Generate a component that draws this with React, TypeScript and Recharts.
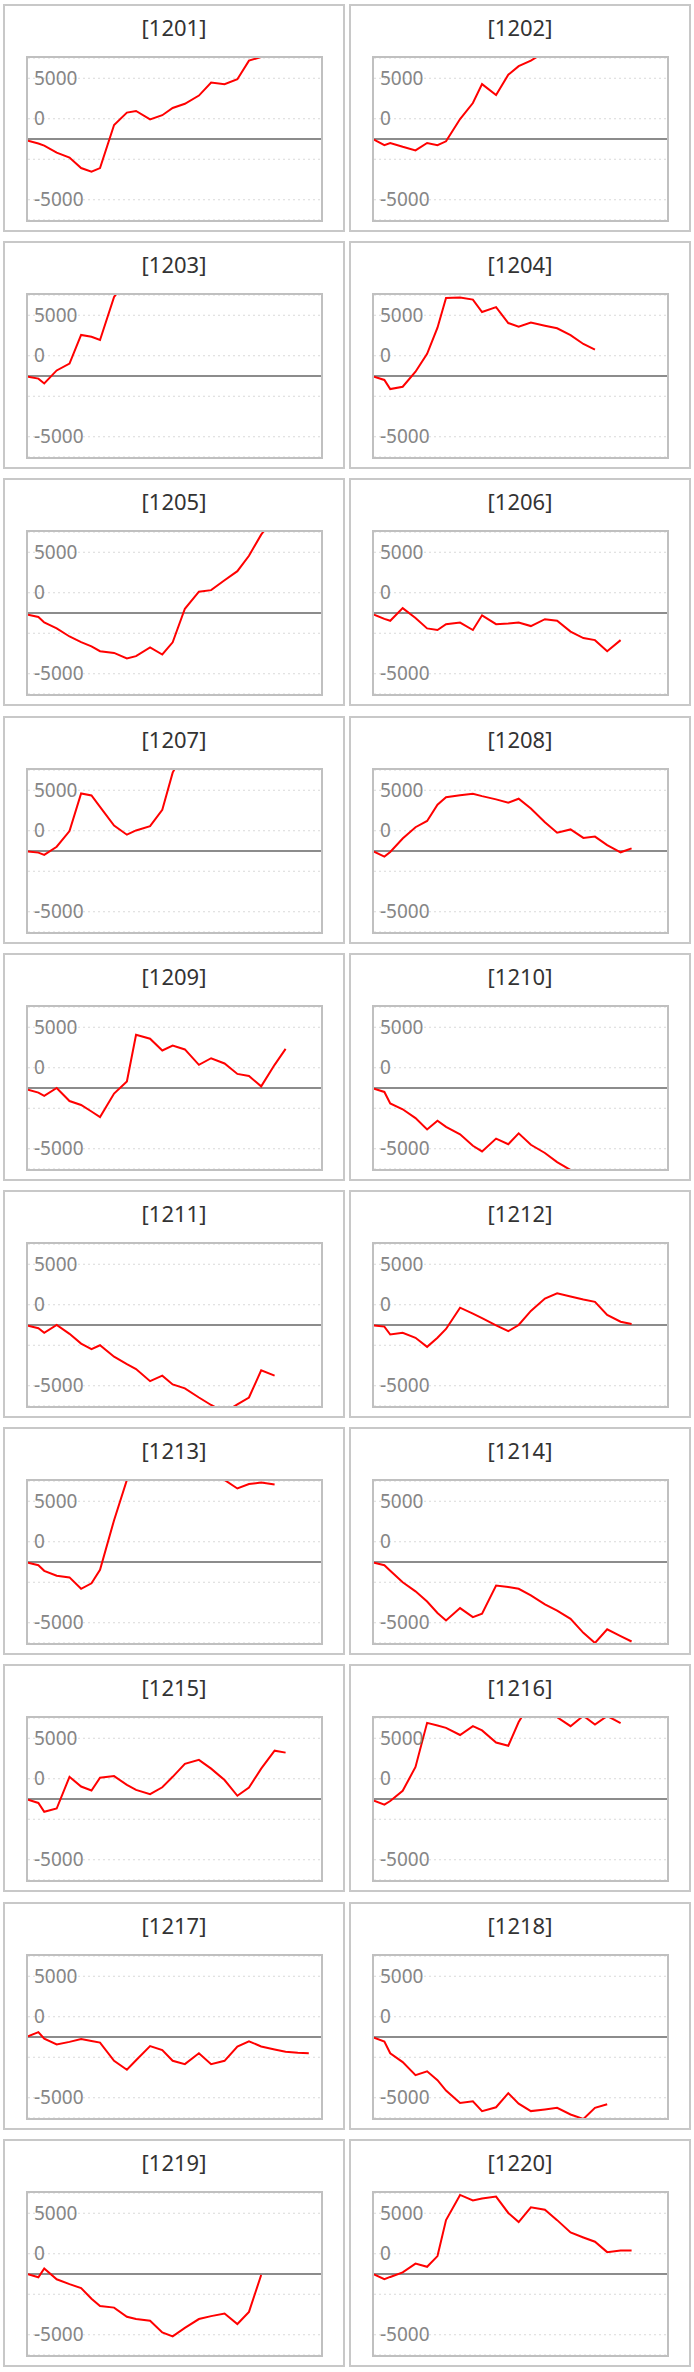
import React from "react";
import { LineChart, Line, XAxis, YAxis, CartesianGrid, ReferenceLine } from "recharts";

// shared time positions (days) of the samples
const T = [0, 0.85, 1.33, 2.35, 3.4, 4.35, 5.2, 5.9, 7.05, 8.1, 8.85, 10.0, 11.0, 11.85, 12.85, 14.0, 15.0, 16.1, 17.15, 18.1, 19.1, 20.2, 21.1, 22.1, 23.0];

const IDS = ["1201", "1202", "1203", "1204", "1205", "1206", "1207", "1208", "1209", "1210", "1211", "1212", "1213", "1214", "1215", "1216", "1217", "1218", "1219", "1220"];

const s1201 = [-160, -450, -650, -1350, -1840, -2870, -3230, -2870, 1390, 2610, 2770, 1940, 2350, 3060, 3480, 4290, 5580, 5420, 5900, 7740, 8100, 9000, 9600];
const s1202 = [-60, -610, -390, -770, -1130, -390, -610, -230, 1970, 3550, 5420, 4350, 6350, 7190, 7740, 8600, 9500];
const s1203 = [-60, -260, -740, 550, 1230, 4060, 3870, 3550, 7800, 9500];
const s1204 = [-60, -390, -1290, -1060, 420, 2190, 4770, 7700, 7750, 7550, 6320, 6800, 5230, 4870, 5290, 4970, 4710, 4030, 3160, 2610];
const s1205 = [-160, -390, -940, -1520, -2320, -2870, -3290, -3770, -3940, -4480, -4260, -3390, -4100, -2900, 420, 2100, 2260, 3230, 4130, 5650, 7740, 9500];
const s1206 = [-160, -580, -770, 480, -500, -1520, -1680, -1100, -940, -1680, -230, -1100, -1030, -940, -1290, -610, -770, -1840, -2480, -2680, -3770, -2680];
const s1207 = [-60, -160, -390, 420, 1970, 5680, 5480, 4350, 2520, 1610, 2030, 2450, 4060, 7740, 10000];
const s1208 = [-60, -550, -100, 1230, 2350, 2970, 4580, 5320, 5500, 5650, 5420, 5100, 4770, 5160, 4190, 2840, 1810, 2130, 1290, 1420, 580, -130, 260];
const s1209 = [-160, -450, -770, 0, -1290, -1680, -2320, -2870, -550, 650, 5260, 4870, 3710, 4190, 3810, 2290, 2940, 2420, 1390, 1190, 160, 2290, 3870];
const s1210 = [-60, -390, -1520, -2100, -2970, -4100, -3230, -3840, -4580, -5710, -6260, -5000, -5550, -4480, -5610, -6420, -7320, -8100, -9000, -9500];
const s1211 = [-60, -320, -770, 0, -870, -1840, -2390, -2000, -3130, -3870, -4350, -5550, -5000, -5870, -6260, -7160, -7900, -8600, -7850, -7160, -4480, -5000];
const s1212 = [-60, -160, -940, -770, -1260, -2160, -1260, -390, 1710, 1130, 680, -30, -610, 0, 1390, 2610, 3130, 2810, 2520, 2290, 1000, 320, 100];
const s1213 = [-60, -320, -870, -1350, -1520, -2650, -2100, -770, 4130, 8100, 9500, 10000, 10500, 10000, 9500, 9000, 8600, 8100, 7260, 7700, 7850, 7650];
const s1214 = [-60, -320, -870, -2000, -2900, -3900, -5030, -5770, -4550, -5450, -5100, -2320, -2480, -2650, -3290, -4190, -4810, -5610, -7000, -8000, -6650, -7320, -7850];
const s1215 = [-60, -390, -1260, -940, 2190, 1230, 840, 2100, 2260, 1390, 900, 480, 1160, 2190, 3480, 3870, 3000, 1870, 320, 1130, 3000, 4770, 4580];
const s1216 = [-160, -550, -200, 810, 3160, 7520, 7260, 7030, 6320, 7190, 6770, 5580, 5260, 7600, 9600, 9000, 8080, 7190, 8220, 7350, 8200, 7500];
const s1217 = [60, 480, -160, -740, -480, -190, -390, -550, -2350, -3230, -2290, -900, -1290, -2350, -2680, -1610, -2680, -2350, -940, -420, -940, -1230, -1450, -1550, -1610];
const s1218 = [-60, -450, -1610, -2480, -3770, -3390, -4260, -5290, -6520, -6350, -7320, -6940, -5550, -6580, -7320, -7160, -7000, -7650, -8100, -7000, -6650];
const s1219 = [-30, -320, 550, -520, -1000, -1390, -2450, -3160, -3320, -4230, -4450, -4610, -5770, -6160, -5320, -4450, -4160, -3900, -4940, -3740, -100];
const s1220 = [-30, -520, -290, 160, 1030, 710, 1770, 5320, 7810, 7260, 7450, 7650, 6030, 5130, 6580, 6350, 5320, 4100, 3610, 3190, 2160, 2320, 2320];

const SERIES = [s1201, s1202, s1203, s1204, s1205, s1206, s1207, s1208, s1209, s1210, s1211, s1212, s1213, s1214, s1215, s1216, s1217, s1218, s1219, s1220];

const Y_TICKS = [-6000, -4000, -2000, 0, 2000, 4000, 6000];
// axis texts and the grid line each one sits on
const LABEL_AT = [6000, 2000, -6000];
const LABEL_TEXT = ["5000", "0", "-5000"];

const FONT = "'Noto Sans', sans-serif";

const Panel: React.FC<{ id: string; values: number[] }> = ({ id, values }) => {
  const data = values.map((v, i) => ({ t: T[i], v }));
  return (
    <div style={{ boxSizing: "border-box", border: "2px solid #c8c8c8", background: "#fff" }}>
      <div style={{ marginTop: 6, height: 30, lineHeight: "30px", textAlign: "center", fontFamily: FONT, fontSize: 22, color: "#333" }}>
        [{id}]
      </div>
      <div style={{ margin: "14px auto 0", width: 297, height: 166, boxSizing: "border-box", border: "2px solid #c0c0c0" }}>
        <LineChart width={293} height={162} data={data} margin={{ top: 0, right: 0, bottom: 0, left: 0 }}>
          <CartesianGrid vertical={false} stroke="#d9d9d9" strokeDasharray="2 3" />
          <XAxis dataKey="t" type="number" domain={[0, 24]} hide allowDataOverflow />
          <YAxis type="number" domain={[-8000, 8000]} ticks={Y_TICKS} allowDataOverflow hide />
          {LABEL_AT.map((y, i) => (
            <ReferenceLine
              key={y}
              y={y}
              strokeOpacity={0}
              label={{ value: LABEL_TEXT[i], position: "insideLeft", offset: 6, fontSize: 19, fontFamily: FONT, fill: "#868686" }}
            />
          ))}
          <ReferenceLine y={0} stroke="#8c8c8c" strokeWidth={2} />
          <Line type="linear" dataKey="v" stroke="#ff0000" strokeWidth={2} dot={false} isAnimationActive={false} />
        </LineChart>
      </div>
    </div>
  );
};

export default function App() {
  return (
    <div style={{ width: 694, height: 2372, position: "relative", background: "#fff" }}>
      <style>{"body{margin:0}"}</style>
      <div
        style={{
          position: "absolute",
          left: 3,
          top: 4,
          display: "grid",
          gridTemplateColumns: "342px 342px",
          columnGap: 4,
          gridTemplateRows: "repeat(10, 228px)",
          rowGap: 9.2,
        }}
      >
        {IDS.map((id, i) => (
          <Panel key={id} id={id} values={SERIES[i]} />
        ))}
      </div>
    </div>
  );
}
